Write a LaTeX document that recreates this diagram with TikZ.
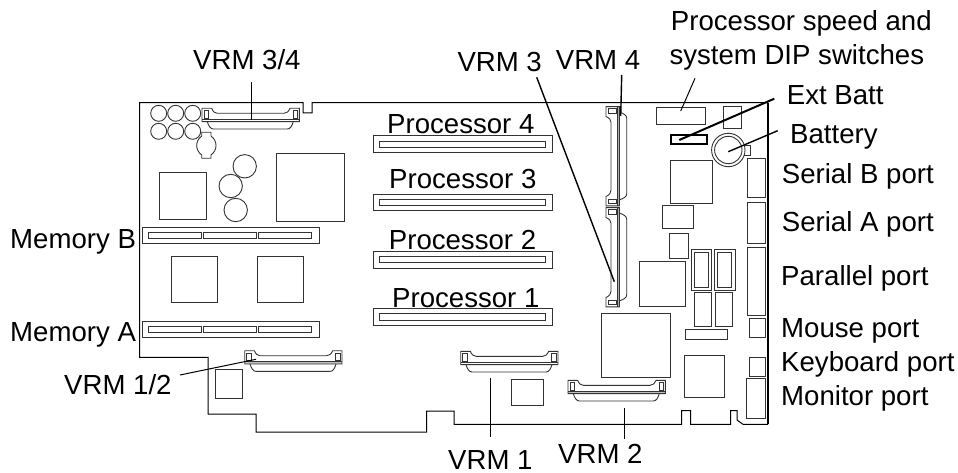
\documentclass[tikz,border=0pt]{standalone}
\usepackage{fontspec}
\setmainfont{Liberation Sans}
\tikzset{
  board/.style={line width=1pt},
  part/.style={line width=0.9pt,black!80},
  leader/.style={line width=1pt},
  heavyleader/.style={line width=2pt},
  lbl/.style={anchor=base west,inner sep=0pt,font=\fontsize{27.6}{30}\selectfont},
  pics/vrmconn/.style={code={
    \fill[#1] (0,11) rectangle (97.3,13.3);
    \draw[part] (0,0) -- (9.7,0) .. controls (11,3.5) and (13,5) .. (15.3,5) -- (82,5)
      .. controls (84.5,5) and (86.5,3.5) .. (88,0) -- (97.3,0) -- (97.3,13.3) -- (0,13.3) -- cycle;
    \draw[part] (0,11) -- (97.3,11);
    \draw[part] (5.3,13.3) .. controls (6.5,17.5) and (8.5,20.7) .. (11.3,20.7) -- (85.3,20.7)
      .. controls (88.5,20.7) and (90,17.5) .. (91.3,13.3);
    \draw[part] (2,2.3) rectangle (6.3,10);
    \draw[part] (91,2.3) rectangle (95.3,10);
  }}
}
\begin{document}
\begin{tikzpicture}[x=1pt,y=-1pt]
  \useasboundingbox (0,0) rectangle (958,473);
  % board outline
  \draw[board] (139.7,102.7) -- (303,102.7) -- (303,113) -- (312,113) -- (312,102.7) -- (767.7,102.7)
    -- (767.7,424.3) -- (743,424.3) -- (737,420) -- (737,410.5) -- (730.7,410.5) -- (730.7,424.3)
    -- (690.7,424.3) -- (690.7,410.7) -- (681.7,410.7) -- (681.7,424.3) -- (454,424.3) -- (454,411)
    -- (426.7,411) -- (426.7,432) -- (256,432) -- (256,414) -- (208,414) -- (208,357.3)
    -- (139.7,357.3) -- cycle;
  \draw[line width=2pt] (767.7,102.7) -- (767.7,424.3);
  % memory slots
  \foreach \y in {227.3,321.3} {
    \draw[part] (142.3,\y) rectangle (319.3,\y+16);
    \foreach \x in {148.3,203.3,258.7} {
      \draw[part] (\x,\y+4.7) rectangle (\x+53.2,\y+11);
    }
  }
  % processor slots
  \foreach \y in {135.7,194,251.3,308.6} {
    \draw[part] (373.3,\y) rectangle (552.7,\y+16.7);
    \draw[part] (379.3,\y+5.3) rectangle (545.3,\y+11.6);
  }
  % chips and ports
  \foreach \xa/\ya/\xb/\yb in {159.3/172.3/206.3/219.7,276/153/344/221.7,171/256/217.3/302.7,
      257.3/256/303.7/302.7,215.3/369.3/242.7/398.3,511/379.3/543.7/405.3,
      656/107.3/705.7/124.3,723.3/106.7/741.7/128.3,670.3/160.7/712.7/203.3,662/205/693.3/228.7,
      669/233.3/688.7/258.3,639/261.3/685.3/306.7,601.3/313/670.3/377.3,684.3/355.3/724.3/397,
      691/249/711.7/290.7,694.3/252.3/708.7/287.3,714/249/735.7/290.7,717.3/252.3/731.7/287.3,
      694.7/292.3/711.7/326.7,715.3/292.3/732.7/326.7,685.7/329/727.3/339.3,
      747.3/158.3/765.7/197.7,747.3/202.7/765.7/243.7,747.3/247.3/765.7/315.7,
      749/318.3/765.3/337,749/357.3/765.3/376,746.7/378.3/765.7/418.3} {
    \draw[part] (\xa,\ya) rectangle (\xb,\yb);
  }
  \draw[line width=2pt] (670.7,135) rectangle (707,144.3);
  % capacitors
  \foreach \x/\y/\r in {158.7/113.3/8,175.7/113.3/8,192.7/113.3/8,158.7/131.3/8,175.7/131.3/8,192.7/131.3/8,
      244.7/166.3/11.7,230.7/186/11.7,235.7/210/11.7} {
    \draw[part] (\x,\y) circle (\r pt);
  }
  \draw[part] (201.7,132.3) -- (211,132.3) -- (211,136) .. controls (217.7,141) and (217.7,150) .. (211,155)
    -- (211,158.3) -- (201.7,158.3) -- (201.7,155) .. controls (195,150) and (195,141) .. (201.7,136) -- cycle;
  % battery
  \draw[part] (745,145) -- (750.7,145) -- (750.7,155) -- (743.5,155);
  \draw[part] (728.3,150) circle (16.7pt);
  \draw[part] (728.3,150) circle (13.7pt);
  % VRM connectors
  \pic at (202,108.3) {vrmconn=white};
  \pic at (244.7,350.7) {vrmconn=gray!50};
  \pic at (460.7,351.3) {vrmconn=white};
  \pic at (568,380.3) {vrmconn=gray!50};
  \foreach \y in {106.7,207.7} {
    \begin{scope}[shift={(606,\y)},cm={0,-1.02,-1,0,(0,0)}]
      \pic[transform shape] at (0,0) {vrmconn=gray!50};
    \end{scope}
  }
  % labels
  \foreach \nm/\x/\y/\txt in {dip1/670.7/30.7/Processor speed and,dip2/669.3/64.3/system DIP switches,
      extbatt/786.7/105/Ext Batt,battery/790/143.3/Battery,serialb/781.7/184/Serial B port,
      seriala/781.7/231/Serial A port,parallel/781/285/Parallel port,mouse/781/337/Mouse port,
      keyboard/781/371/Keyboard port,monitor/781/405/Monitor port,
      vrmc/457.3/71.7/VRM 3,vrmd/555.7/69.3/VRM 4,vrmcd/193/70/{VRM 3/4},vrmab/64/394/{VRM 1/2},
      vrma/448/469/VRM 1,vrmb/558/463/VRM 2,
      procd/387/133.3/Processor 4,procc/389/188.3/Processor 3,procb/388.7/249.3/Processor 2,
      proca/392/307.3/Processor 1,memb/10/248/Memory B,mema/10/341/Memory A} {
    \node[lbl] (\nm) at (\x,\y) {\txt};
  }
  % leaders
  \coordinate (vrmcdtop) at (251,82);
  \coordinate (vrmcdend) at (251,120);
  \coordinate (vrmabtop) at (180,375);
  \coordinate (vrmabend) at (256,359.3);
  \coordinate (vrmatop) at (490.7,377.7);
  \coordinate (vrmaend) at (490.7,437.3);
  \coordinate (vrmbtop) at (624.3,408.3);
  \coordinate (vrmbend) at (624.3,439.3);
  \coordinate (diptop) at (695,78.3);
  \coordinate (dipend) at (680.7,111);
  \coordinate (vrmctop) at (536.7,77.3);
  \coordinate (vrmcend) at (614.3,281.7);
  \coordinate (vrmdtop) at (621.7,75);
  \coordinate (vrmdend) at (620.7,116);
  \coordinate (exttop) at (774.3,98.7);
  \coordinate (extend) at (679.3,140);
  \coordinate (battop) at (777.7,130.7);
  \coordinate (batend) at (728.3,151.7);
  \draw[leader] (vrmcdtop) -- (vrmcdend);
  \draw[leader] (vrmabtop) -- (vrmabend);
  \draw[leader] (vrmatop) -- (vrmaend);
  \draw[leader] (vrmbtop) -- (vrmbend);
  \draw[leader] (diptop) -- (dipend);
  \draw[line width=1.4pt] (vrmctop) -- (vrmcend);
  \draw[line width=1.4pt] (vrmdtop) -- (vrmdend);
  \draw[heavyleader] (exttop) -- (extend);
  \draw[line width=1.4pt] (battop) -- (batend);
\end{tikzpicture}
\end{document}
